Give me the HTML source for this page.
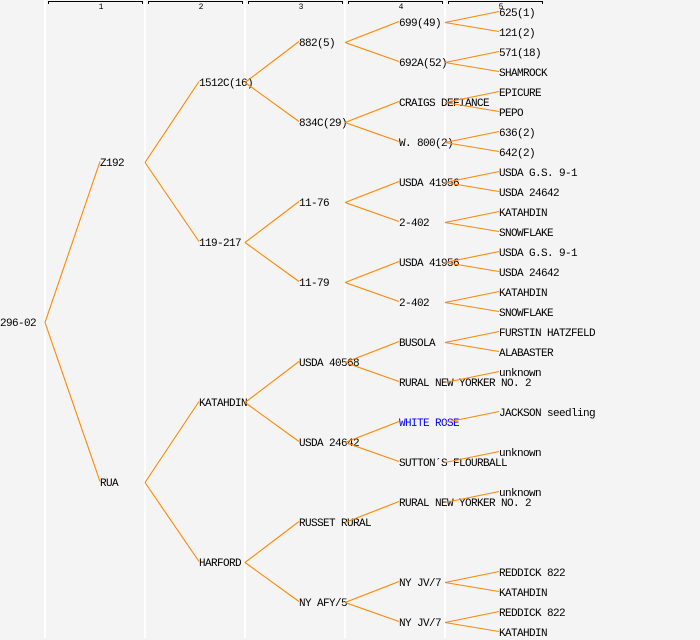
<!DOCTYPE html>
<html><head><meta charset="utf-8"><style>
html,body{margin:0;padding:0;background:#f4f4f4;}
svg{display:block;}
text{font-family:"Liberation Mono",monospace;font-size:11px;letter-spacing:-0.6px;fill:#000;}
.h{font-size:8px;letter-spacing:0;}
</style></head><body>
<svg width="700" height="640" xmlns="http://www.w3.org/2000/svg">
<rect width="700" height="640" fill="#f4f4f4"/>
<g stroke="#fff" stroke-width="2">
<line x1="45" y1="0" x2="45" y2="638"/><line x1="145" y1="0" x2="145" y2="638"/>
<line x1="245" y1="0" x2="245" y2="638"/><line x1="345" y1="0" x2="345" y2="638"/>
<line x1="445" y1="0" x2="445" y2="638"/>
</g>
<g stroke="#000" stroke-width="1" fill="none">
<path d="M48.5 4V1.5H142.5V4"/><path d="M148.5 4V1.5H242.5V4"/><path d="M248.5 4V1.5H342.5V4"/><path d="M348.5 4V1.5H442.5V4"/><path d="M448.5 4V1.5H542.5V4"/>
</g>
<g text-anchor="middle">
<text class="h" x="101" y="9">1</text><text class="h" x="201" y="9">2</text><text class="h" x="301" y="9">3</text><text class="h" x="401" y="9">4</text><text class="h" x="501" y="9">5</text>
</g>
<g id="t"></g>
<g id="l" stroke="#ff8800" stroke-width="1.1" fill="none"></g>
</svg>
<script>
var N=[
[0,322,"296-02",[[1,162],[1,482]]],
[1,162,"Z192",[[2,82],[2,242]]],[1,482,"RUA",[[2,402],[2,562]]],
[2,82,"1512C(16)",[[3,42],[3,122]]],[2,242,"119-217",[[3,202],[3,282]]],[2,402,"KATAHDIN",[[3,362],[3,442]]],[2,562,"HARFORD",[[3,522],[3,602]]],
[3,42,"882(5)",[[4,22],[4,62]]],[3,122,"834C(29)",[[4,102],[4,142]]],[3,202,"11-76",[[4,182],[4,222]]],[3,282,"11-79",[[4,262],[4,302]]],[3,362,"USDA 40568",[[4,342],[4,382]]],[3,442,"USDA 24642",[[4,422],[4,462]]],[3,522,"RUSSET RURAL",[[4,502]]],[3,602,"NY AFY/5",[[4,582],[4,622]]],
[4,22,"699(49)",[[5,12],[5,32]]],[4,62,"692A(52)",[[5,52],[5,72]]],[4,102,"CRAIGS DEFIANCE",[[5,92],[5,112]]],[4,142,"W. 800(2)",[[5,132],[5,152]]],[4,182,"USDA 41956",[[5,172],[5,192]]],[4,222,"2-402",[[5,212],[5,232]]],[4,262,"USDA 41956",[[5,252],[5,272]]],[4,302,"2-402",[[5,292],[5,312]]],[4,342,"BUSOLA",[[5,332],[5,352]]],[4,382,"RURAL NEW YORKER NO. 2",[[5,372]]],[4,422,"WHITE ROSE",[[5,412]],1],[4,462,"SUTTON\u00b4S FLOURBALL",[[5,452]]],[4,502,"RURAL NEW YORKER NO. 2",[[5,492]]],[4,582,"NY JV/7",[[5,572],[5,592]]],[4,622,"NY JV/7",[[5,612],[5,632]]]
];
var G5=[[12,"625(1)"],[32,"121(2)"],[52,"571(18)"],[72,"SHAMROCK"],[92,"EPICURE"],[112,"PEPO"],[132,"636(2)"],[152,"642(2)"],[172,"USDA G.S. 9-1"],[192,"USDA 24642"],[212,"KATAHDIN"],[232,"SNOWFLAKE"],[252,"USDA G.S. 9-1"],[272,"USDA 24642"],[292,"KATAHDIN"],[312,"SNOWFLAKE"],[332,"FURSTIN HATZFELD"],[352,"ALABASTER"],[372,"unknown"],[412,"JACKSON seedling"],[452,"unknown"],[492,"unknown"],[572,"REDDICK 822"],[592,"KATAHDIN"],[612,"REDDICK 822"],[632,"KATAHDIN"]];
var ns="http://www.w3.org/2000/svg",T=document.getElementById("t"),L=document.getElementById("l");
function tx(x,y,s,b){var e=document.createElementNS(ns,"text");e.setAttribute("x",x);e.setAttribute("y",y+4);e.textContent=s;if(b)e.setAttribute("style","fill:#0000ff");T.appendChild(e);}
function lx(g){return g==0?0:(g==1?100:100*g-1);}
N.forEach(function(n){tx(lx(n[0]),n[1],n[2],n[4]);n[3].forEach(function(c){var p=document.createElementNS(ns,"line");p.setAttribute("x1",100*n[0]+45);p.setAttribute("y1",n[1]+0.5);p.setAttribute("x2",lx(c[0]));p.setAttribute("y2",c[1]-0.5);L.appendChild(p);});});
G5.forEach(function(g){tx(499,g[0],g[1]);});
</script>
</body></html>
